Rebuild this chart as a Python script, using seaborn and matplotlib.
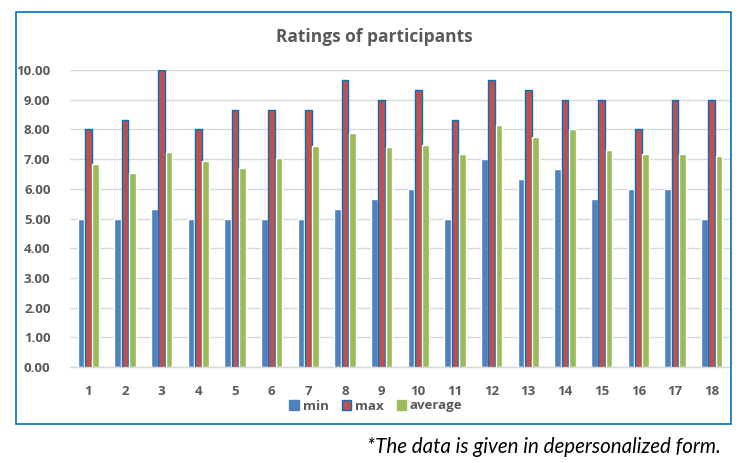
import matplotlib
matplotlib.use("Agg")
import matplotlib.pyplot as plt
import seaborn as sns
import pandas as pd
from matplotlib.patches import Rectangle, Patch

participants = [str(i) for i in range(1, 19)]
min_vals = [5.00, 5.00, 5.33, 5.00, 5.00, 5.00, 5.00, 5.33, 5.67, 6.00,
            5.00, 7.00, 6.33, 6.67, 5.67, 6.00, 6.00, 5.00]
max_vals = [8.00, 8.33, 10.00, 8.00, 8.67, 8.67, 8.67, 9.67, 9.00, 9.33,
            8.33, 9.67, 9.33, 9.00, 9.00, 8.00, 9.00, 9.00]
avg_vals = [6.83, 6.53, 7.25, 6.94, 6.71, 7.05, 7.45, 7.89, 7.42, 7.48,
            7.18, 8.15, 7.75, 8.01, 7.32, 7.18, 7.18, 7.11]
series = ["min", "max", "average"]
colors = ["#4F81BD", "#C0504D", "#9BBB59"]
edge_max = "#0070C0"

df = pd.DataFrame({
    "participant": participants * 3,
    "series": ["min"] * 18 + ["max"] * 18 + ["average"] * 18,
    "value": min_vals + max_vals + avg_vals,
})

sns.set_theme(style="white")
plt.rcParams["font.family"] = ["Open Sans", "DejaVu Sans"]

fig = plt.figure(figsize=(7.49, 4.63), dpi=100)
ax = fig.add_axes([70/749, 1-367/463, 660/749, 297/463])

sns.barplot(data=df, x="participant", y="value", hue="series",
            hue_order=series, palette=colors, width=0.6, gap=0.1,
            saturation=1, ax=ax, legend=False)

for bar in ax.containers[1]:
    bar.set_edgecolor(edge_max)
    bar.set_linewidth(1.0)

ax.set_ylim(0, 10)
ax.set_xlim(-0.5, 17.5)
ax.set_yticks([i for i in range(0, 11)])
ax.set_yticklabels([f"{i:.2f}" for i in range(0, 11)])
ax.yaxis.grid(True, color="#D9D9D9", linewidth=1)
ax.set_axisbelow(True)
for s in ["top", "right", "left"]:
    ax.spines[s].set_visible(False)
ax.spines["bottom"].set_color("#D9D9D9")
ax.spines["bottom"].set_linewidth(1)
ax.tick_params(axis="both", length=0, labelsize=9.5, labelcolor="#595959")
ax.tick_params(axis="y", pad=14)
ax.tick_params(axis="x", pad=13)
for lab in ax.get_xticklabels() + ax.get_yticklabels():
    lab.set_fontweight("bold")
ax.set_xlabel("")
ax.set_ylabel("")

fig.text(374/749, 1-37/463, "Ratings of participants", ha="center", va="center",
         fontsize=12.5, fontweight="bold", color="#595959")

handles = [Patch(facecolor=colors[0], edgecolor=colors[0]),
           Patch(facecolor=colors[1], edgecolor=edge_max, linewidth=1.0),
           Patch(facecolor=colors[2], edgecolor=colors[2])]
leg = fig.legend(handles, series, loc="center", bbox_to_anchor=(376/749, 1-406/463),
                 ncol=3, frameon=False, handlelength=0.7, handleheight=0.7,
                 handletextpad=0.3, columnspacing=1.0,
                 prop={"size": 9.5, "weight": "bold"})
for t in leg.get_texts():
    t.set_color("#595959")

fig.patches.append(Rectangle((16/749, 1-424/463), 715/749, 412/463,
                             transform=fig.transFigure, fill=False,
                             edgecolor="#0070C0", linewidth=1.2))

fig.text(721/749, 1-447/463, "*The data is given in depersonalized form.",
         ha="right", va="center", fontsize=14.8, style="italic", color="#000000",
         family=["Lato", "DejaVu Sans"])

fig.savefig("out.png", dpi=100)
